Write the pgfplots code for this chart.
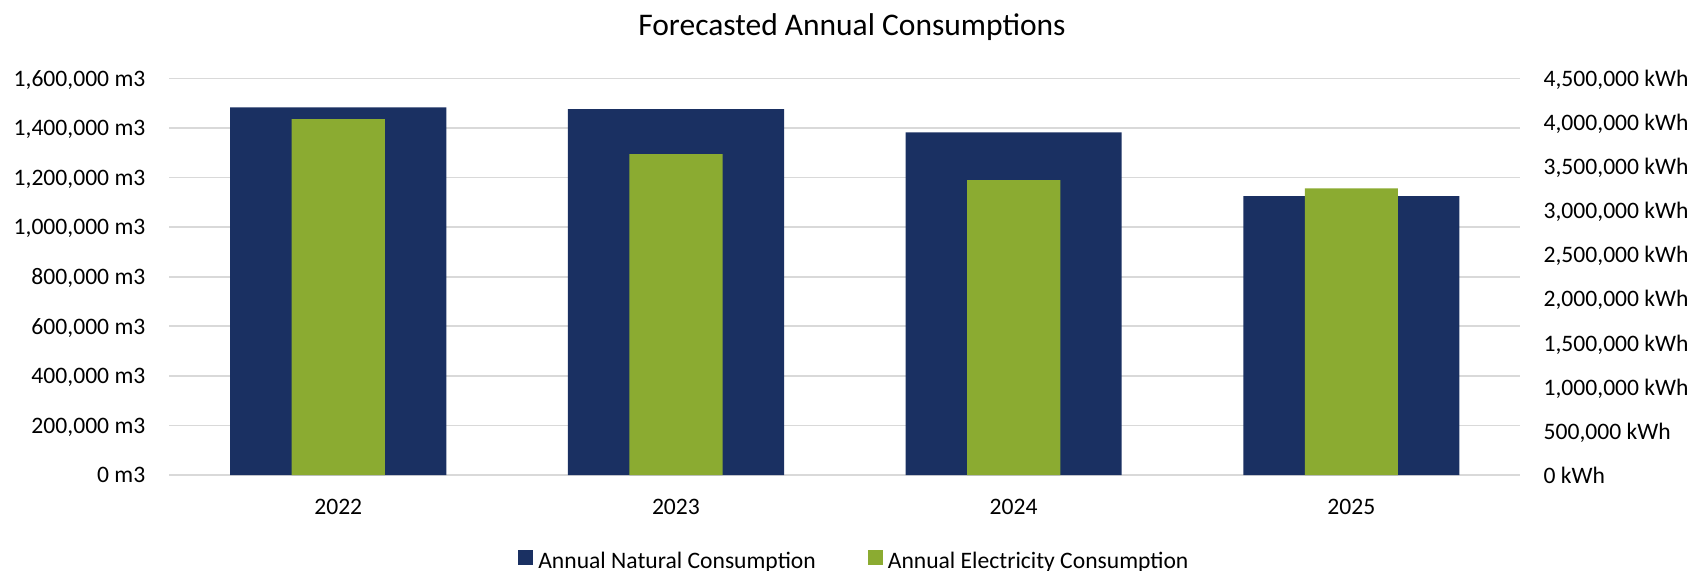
\documentclass[border=0pt]{standalone}
\usepackage{fontspec}
\setmainfont{Carlito}
\usepackage{pgfplots}
\pgfplotsset{compat=1.18}
\definecolor{navy}{HTML}{1A3062}
\definecolor{grn}{HTML}{8BAB31}
\definecolor{gridc}{HTML}{D9D9D9}
\pgfplotsset{
  sq legend/.style={legend image code/.code={\fill[##1] (0pt,-1.5pt) rectangle (7.5pt,6pt);}},
  base/.style={
    scale only axis, width=675.4pt, height=198.25pt,
    at={(84.7pt,47.5pt)}, anchor=south west,
    xmin=-0.5, xmax=3.5, xtick={0,1,2,3},
    ymin=0,
    ybar, bar width=0.64, bar shift=0pt,
    major tick length=0pt,
    scaled y ticks=false,
    tick label style={font=\fontsize{11.8}{14}\selectfont, text=black, inner sep=0pt, text depth=0pt},
  }
}
\begin{document}
\begin{tikzpicture}[x=1pt,y=1pt]
\useasboundingbox (0,0) rectangle (847,285);
\begin{axis}[base,
  ymax=1600000,
  ytick={0,200000,400000,600000,800000,1000000,1200000,1400000,1600000},
  yticklabels={{0 m3},{200,000 m3},{400,000 m3},{600,000 m3},{800,000 m3},{1,000,000 m3},{1,200,000 m3},{1,400,000 m3},{1,600,000 m3}},
  xticklabels={2022,2023,2024,2025},
  axis x line*=bottom, axis y line*=left,
  x axis line style={draw=gridc, line width=0.85pt, -},
  y axis line style={draw=none},
  ymajorgrids, grid style={draw=gridc, line width=0.85pt},
  yticklabel style={anchor=east, xshift=-11.85pt},
  xticklabel style={anchor=center, yshift=-15.85pt},
]
\addplot[fill=navy, draw=none] coordinates {(0,1483800) (1,1476900) (2,1382900) (3,1125800)};
\end{axis}
\begin{axis}[base,
  ymax=4500000,
  ytick={0,500000,1000000,1500000,2000000,2500000,3000000,3500000,4000000,4500000},
  yticklabels={{0 kWh},{500,000 kWh},{1,000,000 kWh},{1,500,000 kWh},{2,000,000 kWh},{2,500,000 kWh},{3,000,000 kWh},{3,500,000 kWh},{4,000,000 kWh},{4,500,000 kWh}},
  bar width=0.276,
  axis x line=none, xticklabels={},
  axis y line*=right, y axis line style={draw=none},
  yticklabel style={anchor=west, xshift=11.5pt},
  legend columns=2,
  legend style={at={(0.2583,-0.2165)}, anchor=west, draw=none, inner sep=0pt, outer sep=0pt,
    font=\fontsize{11.8}{14}\selectfont,
    nodes={inner sep=0pt},
    /tikz/every odd column/.append style={column sep=2.5pt},
    /tikz/every even column/.append style={column sep=26pt}},
]
\addlegendimage{fill=navy, draw=none, sq legend}
\addlegendentry{Annual Natural Consumption}
\addplot[fill=grn, draw=none, sq legend] coordinates {(0,4040000) (1,3643000) (2,3348000) (3,3254000)};
\addlegendentry{Annual Electricity Consumption}
\end{axis}
\node[font=\fontsize{15.75}{18}\selectfont, anchor=base] at (426,267.5) {Forecasted Annual Consumptions};
\end{tikzpicture}
\end{document}
